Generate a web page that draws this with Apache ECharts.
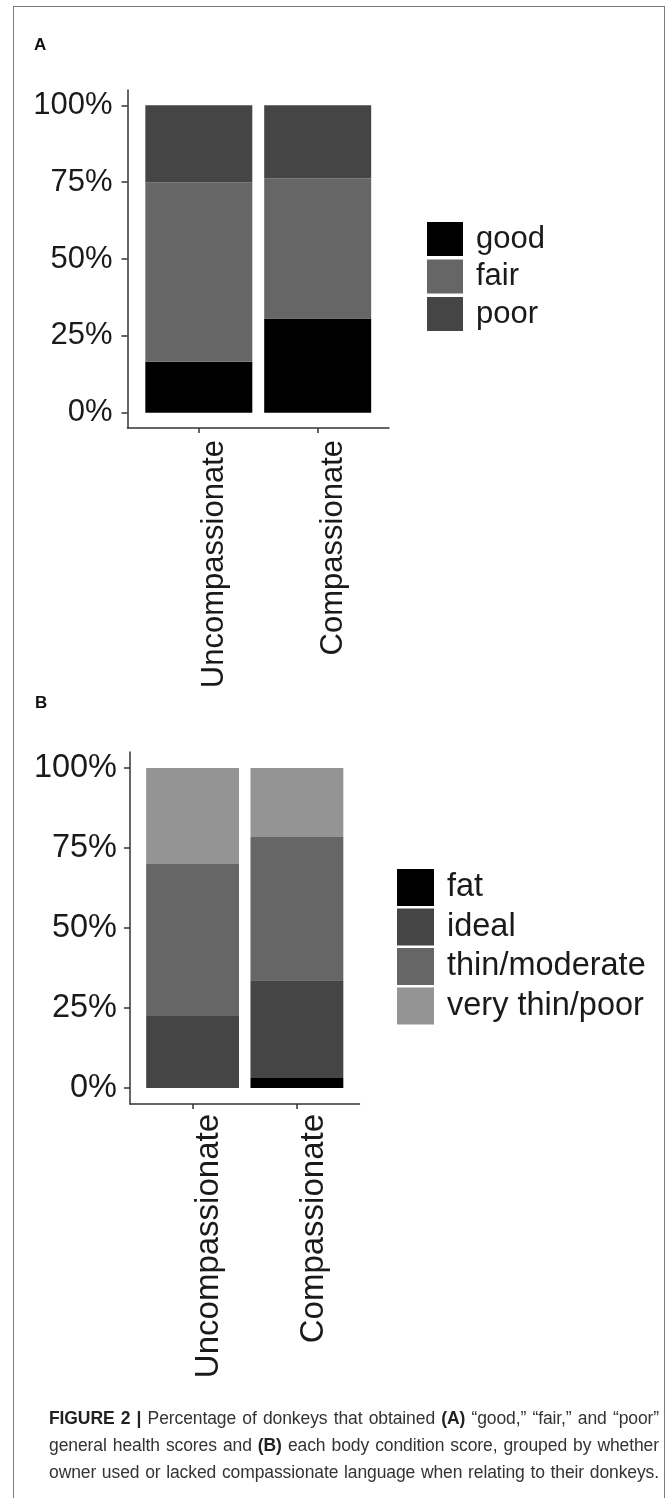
<!DOCTYPE html>
<html>
<head>
<meta charset="utf-8">
<script src="https://cdn.jsdelivr.net/npm/echarts@6/dist/echarts.min.js"></script>
<style>
  html, body { margin: 0; padding: 0; background: #fff; }
  #wrap { position: relative; width: 672px; height: 1498px; overflow: hidden; }
  #chart { position: absolute; left: 0; top: 0; width: 672px; height: 1498px; }
  #frame { position: absolute; left: 13px; top: 6px; width: 652px; height: 1520px;
           border: 1.6px solid #7a7a7a; box-sizing: border-box; pointer-events: none; }
  #caption { position: absolute; left: 49px; width: 610px; top: 1405px;
             font-family: "Liberation Sans", Arial, sans-serif; font-size: 17.5px; color: #333;
             line-height: 27px; letter-spacing: -0.1px; }
  #caption div { text-align: justify; text-align-last: justify; white-space: nowrap; }
  #caption b { color: #222; }
</style>
</head>
<body>
<div id="wrap">
  <div id="chart"></div>
  <div id="frame"></div>
  <div id="caption">
    <div><b>FIGURE 2 |</b> Percentage of donkeys that obtained <b>(A)</b> “good,” “fair,” and “poor”</div>
    <div>general health scores and <b>(B)</b> each body condition score, grouped by whether</div>
    <div>owner used or lacked compassionate language when relating to their donkeys.</div>
  </div>
</div>
<script>
// ---- data ----
const categories = ['Uncompassionate', 'Compassionate'];
const categoryPos = [1, 2];
const yTickValues = [0, 25, 50, 75, 100];

const healthNames = ['good', 'fair', 'poor'];
const healthGood = [16.6, 30.6];
const healthFair = [58.4, 45.6];
const healthPoor = [25.0, 23.8];

const bcsNames = ['fat', 'ideal', 'thin/moderate', 'very thin/poor'];
const bcsFat = [0, 3.1];
const bcsIdeal = [22.5, 30.6];
const bcsThin = [47.5, 44.7];
const bcsVeryThin = [30.0, 21.6];

// ---- styles ----
const healthColors = ['#000000', '#666666', '#454545'];
const bcsColors = ['#000000', '#454545', '#666666', '#949494'];
const FONT = '"Liberation Sans", Arial, sans-serif';

// panel geometry: visible axes span 0.6 category units beyond the outer bars (ggplot style)
const panelA = { left: 127.5, top: 90, width: 261.5, height: 338 };
const panelB = { left: 130, top: 752, width: 229.5, height: 352 };
function barGrid(p) {
  const unit = p.width / 2.2;
  return { left: p.left + 0.1 * unit, top: p.top, width: 2 * unit, height: p.height };
}

function visibleXAxis(gridIndex, fontSize, margin) {
  return {
    type: 'value', gridIndex, min: 0.4, max: 2.6,
    splitLine: { show: false },
    axisLine: { show: true, onZero: false, lineStyle: { color: '#333', width: 1.5 } },
    axisTick: { show: true, length: 5, customValues: categoryPos, lineStyle: { color: '#333', width: 1.5 } },
    axisLabel: {
      customValues: categoryPos, rotate: 90, margin,
      verticalAlign: 'top',
      fontSize, fontFamily: FONT, color: '#1a1a1a',
      formatter: v => categories[categoryPos.indexOf(Math.round(v))] || ''
    }
  };
}
function visibleYAxis(gridIndex, fontSize, margin) {
  return {
    type: 'value', gridIndex, min: -5, max: 105,
    splitLine: { show: false },
    axisLine: { show: true, onZero: false, lineStyle: { color: '#333', width: 1.5 } },
    axisTick: { show: true, length: 6, customValues: yTickValues, lineStyle: { color: '#333', width: 1.5 } },
    axisLabel: {
      customValues: yTickValues, margin,
      fontSize, fontFamily: FONT, color: '#1a1a1a',
      formatter: v => v + '%'
    }
  };
}
function hiddenCatAxis(gridIndex) {
  return { type: 'category', gridIndex, data: categories, show: false };
}
function hiddenValAxis(gridIndex) {
  return { type: 'value', gridIndex, min: -5, max: 105, show: false, splitLine: { show: false } };
}

const series = [];
[healthGood, healthFair, healthPoor].forEach((vals, i) => {
  series.push({
    name: healthNames[i], type: 'bar', stack: 'health', xAxisIndex: 1, yAxisIndex: 1,
    barWidth: '90%', data: vals, itemStyle: { color: healthColors[i] },
    emphasis: { disabled: true }
  });
});
[bcsFat, bcsIdeal, bcsThin, bcsVeryThin].forEach((vals, i) => {
  series.push({
    name: bcsNames[i], type: 'bar', stack: 'bcs', xAxisIndex: 3, yAxisIndex: 3,
    barWidth: '89%', data: vals, itemStyle: { color: bcsColors[i] },
    emphasis: { disabled: true }
  });
});

const chart = echarts.init(document.getElementById('chart'), null, { renderer: 'canvas' });
chart.setOption({
  animation: false,
  backgroundColor: '#ffffff',
  grid: [panelA, barGrid(panelA), panelB, barGrid(panelB)],
  xAxis: [visibleXAxis(0, 31, 12), hiddenCatAxis(1), visibleXAxis(2, 33, 10), hiddenCatAxis(3)],
  yAxis: [visibleYAxis(0, 31, 15), hiddenValAxis(1), visibleYAxis(2, 32.5, 13), hiddenValAxis(3)],
  legend: [
    {
      data: healthNames, orient: 'vertical', left: 427, top: 222, padding: 0,
      icon: 'rect', itemWidth: 36, itemHeight: 34, itemGap: 3.5,
      selectedMode: false,
      textStyle: { fontSize: 31, fontFamily: FONT, color: '#1a1a1a', lineHeight: 34, padding: [0, 0, 0, 8] }
    },
    {
      data: bcsNames, orient: 'vertical', left: 397, top: 869, padding: 0,
      icon: 'rect', itemWidth: 37, itemHeight: 37, itemGap: 2.5,
      selectedMode: false,
      textStyle: { fontSize: 32.5, fontFamily: FONT, color: '#1a1a1a', lineHeight: 37, padding: [0, 0, 0, 8] }
    }
  ],
  graphic: [
    { type: 'text', left: 34, top: 37, style: { text: 'A', font: 'bold 17px ' + FONT, fill: '#111' } },
    { type: 'text', left: 35, top: 695, style: { text: 'B', font: 'bold 17px ' + FONT, fill: '#111' } }
  ],
  series
});
</script>
</body>
</html>
